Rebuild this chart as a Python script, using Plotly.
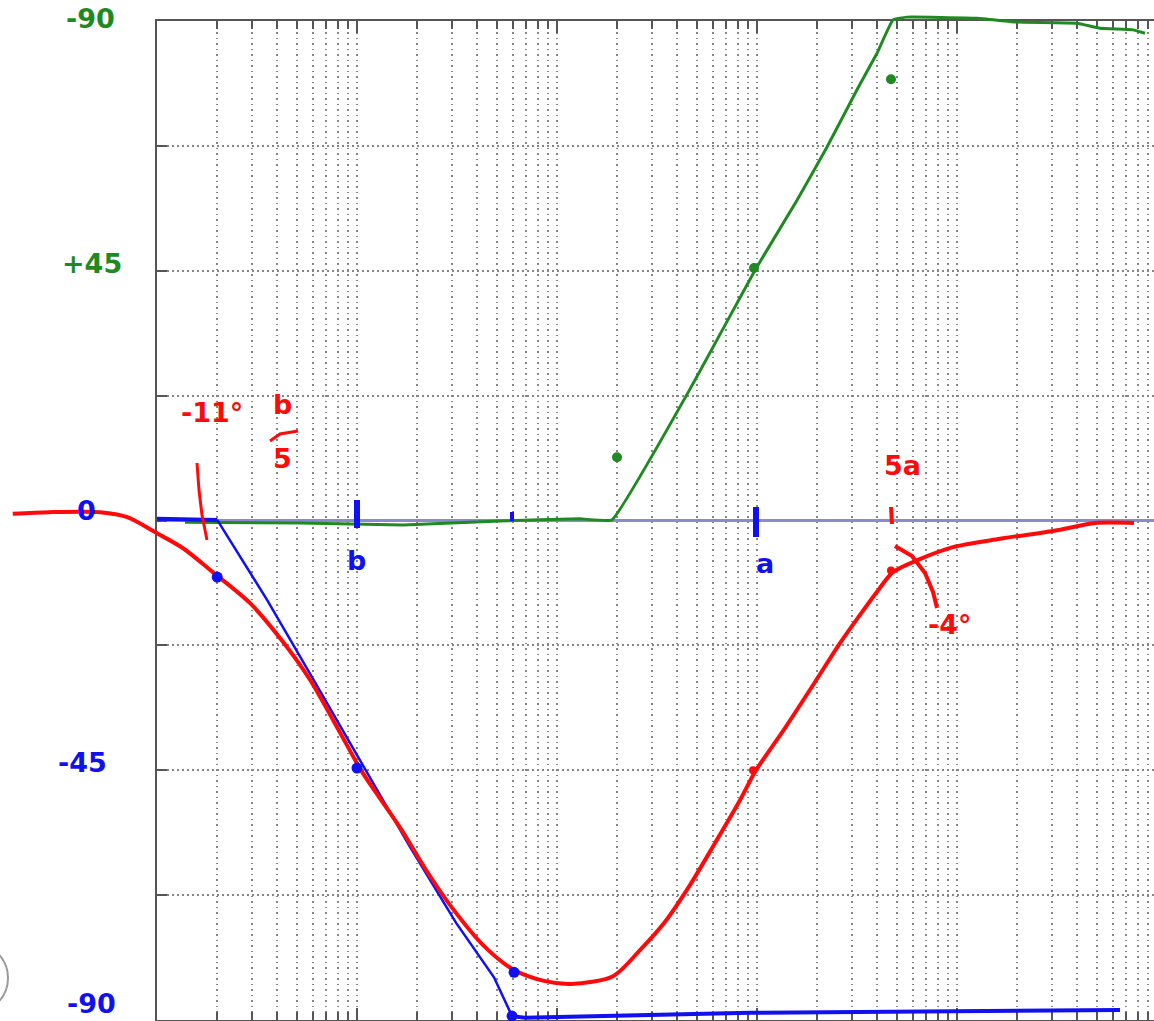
import plotly.graph_objects as go

# ---------------- data (frequency in rad/s, phase in degrees) ----------------
red_f = [0.19, 0.29, 0.52, 0.71, 1.0, 1.35, 1.9, 2.92, 4.27, 5.82, 8.22, 10.6, 16.4, 21.9,
         29.2, 42.7, 61, 87.1, 117.5, 190.5, 260, 347, 462, 617, 822, 977, 1380, 1950,
         2600, 3273, 4027, 4786, 6383, 9550, 16410, 32360, 48980, 76740]
red_deg = [1.2, 1.5, 1.5, 0.6, -2.3, -5.0, -9.3, -14.9, -21.9, -28.7, -38.2, -45.3, -55.3,
           -62.7, -69.3, -76.5, -81.0, -83.0, -83.5, -82.1, -77.4, -72.3, -65.7, -58.1,
           -50.4, -45.3, -37.4, -29.1, -22.1, -17.0, -12.6, -9.3, -7.1, -4.8, -3.3, -1.7,
           -0.45, -0.45]

blue_flat_f = [1.0, 2.0]
blue_flat_deg = [0.3, 0.1]
blue_slope_f = [2.0, 3.55, 5.8, 10.35, 18.4, 31.3, 48.4, 59.6]
blue_slope_deg = [0.1, -14.3, -27.5, -43.2, -58.8, -72.5, -82.3, -89.3]
blue_bottom_f = [59.6, 69, 923, 65300]
blue_bottom_deg = [-89.3, -89.6, -88.7, -88.2]

green_f = [1.38, 5.19, 17, 51.9, 130, 188, 490, 977, 1585, 2239, 3162, 3981, 4786, 5623,
           12590, 19950, 39810, 51880, 75860, 87100]
green_deg = [-0.3, -0.45, -0.8, -0.1, 0.3, 0.1, 25.3, 45.1, 57.7, 67.3, 77.6, 84.2, 90.2,
             90.7, 90.5, 89.8, 89.6, 88.7, 88.4, 87.8]

green_dot_f = [199.5, 966, 4677]
green_dot_deg = [11.4, 45.5, 79.5]
blue_dot_f = [2.0, 10, 61, 59.6]
blue_dot_deg = [-10.2, -44.6, -81.4, -89.3]
red_dot_f = [955, 4677]
red_dot_deg = [-45.0, -9.0]

zero_f = [1.0, 99000]
zero_deg = [0, 0]

decades = [1, 10, 100, 1000, 10000, 100000]
minor_vals = [m * d for d in decades for m in range(2, 10)]
phase_ticks = [-90, -67.5, -45, -22.5, 0, 22.5, 45, 67.5, 90]

# ---------------- layout geometry ----------------
W, H = 1154, 1021
X0 = 157          # left frame (px)
DEC = 200         # px per decade
Y_TOP, Y_BOT = 21, 1020
S = 180.0 / (Y_BOT - Y_TOP)   # degrees per px

RED = "#ff0a0a"
BLUE = "#1010f0"
GREEN = "#1f8a22"
FRAME = "#555555"
GRID = "#858585"


def px(x, y):
    return x / W, 1 - y / H


fig = go.Figure()

# zero axis line (on the gridded subplot)
fig.add_trace(go.Scatter(x=zero_f, y=zero_deg, mode="lines", xaxis="x", yaxis="y",
                         line=dict(color="#8a8ad0", width=3), hoverinfo="skip"))
# green
fig.add_trace(go.Scatter(x=green_f, y=green_deg, mode="lines", xaxis="x2", yaxis="y2",
                         line=dict(color=GREEN, width=3, shape="spline", smoothing=0.3)))
# blue
fig.add_trace(go.Scatter(x=blue_flat_f, y=blue_flat_deg, mode="lines", xaxis="x2", yaxis="y2",
                         line=dict(color=BLUE, width=4)))
fig.add_trace(go.Scatter(x=blue_slope_f, y=blue_slope_deg, mode="lines", xaxis="x2", yaxis="y2",
                         line=dict(color=BLUE, width=2.5)))
fig.add_trace(go.Scatter(x=blue_bottom_f, y=blue_bottom_deg, mode="lines", xaxis="x2", yaxis="y2",
                         line=dict(color=BLUE, width=4)))
# red
fig.add_trace(go.Scatter(x=red_f, y=red_deg, mode="lines", xaxis="x2", yaxis="y2",
                         line=dict(color=RED, width=4, shape="spline", smoothing=0.8)))
# dots
fig.add_trace(go.Scatter(x=green_dot_f, y=green_dot_deg, mode="markers", xaxis="x2", yaxis="y2",
                         marker=dict(color=GREEN, size=10)))
fig.add_trace(go.Scatter(x=blue_dot_f, y=blue_dot_deg, mode="markers", xaxis="x2", yaxis="y2",
                         marker=dict(color=BLUE, size=11)))
fig.add_trace(go.Scatter(x=red_dot_f, y=red_dot_deg, mode="markers", xaxis="x2", yaxis="y2",
                         marker=dict(color=RED, size=8)))

# ---------------- hand-written annotations ----------------
texts = [
    ("-90", 90, 19, GREEN, 27),
    ("+45", 92, 264, GREEN, 27),
    ("0", 86, 510, BLUE, 27),
    ("-45", 82, 762, BLUE, 27),
    ("-90", 92, 1003, BLUE, 27),
    ("-11°", 212, 413, RED, 27),
    ("b", 282, 404, RED, 27),
    ("5", 282, 458, RED, 27),
    ("b", 356, 560, BLUE, 27),
    ("a", 765, 563, BLUE, 27),
    ("5a", 902, 465, RED, 27),
    ("-4°", 950, 624, RED, 27),
]
for t, x, y, c, s in texts:
    ax, ay = px(x, y)
    fig.add_annotation(text="<b>" + t + "</b>", x=ax, y=ay, xref="paper", yref="paper",
                       showarrow=False, font=dict(family="DejaVu Sans", size=s, color=c),
                       xanchor="center", yanchor="middle")


def path(points, closed=False):
    s = ""
    for i, (x, y) in enumerate(points):
        a, b = px(x, y)
        s += ("M" if i == 0 else "L") + f" {a:.5f} {b:.5f} "
    return s + ("Z" if closed else "")


strokes = [
    ([(197, 463), (199, 490), (202, 515), (207, 540)], RED, 3),
    ([(270, 441), (280, 434), (298, 431)], RED, 3),
    ([(357, 500), (357, 528)], BLUE, 6),
    ([(512, 512), (512, 521)], BLUE, 4),
    ([(756, 507), (756, 537)], BLUE, 6),
    ([(891, 507), (892, 524)], RED, 4),
    ([(895, 546), (912, 556), (925, 573), (933, 592), (937, 608)], RED, 4),
]
shapes = []
for pts, c, w in strokes:
    shapes.append(dict(type="path", path=path(pts), xref="paper", yref="paper",
                       line=dict(color=c, width=w)))
# partial grey circle at bottom-left edge
cx0, cy0 = px(-58, 944)
cx1, cy1 = px(8, 1012)
shapes.append(dict(type="circle", xref="paper", yref="paper", x0=cx0, y0=cy0, x1=cx1, y1=cy1,
                   line=dict(color="#9a9a9a", width=2)))

DASH = "1.5px,4px"
fig.update_layout(
    width=W, height=H,
    margin=dict(l=0, r=0, t=0, b=0, pad=0),
    paper_bgcolor="white", plot_bgcolor="rgba(0,0,0,0)",
    showlegend=False,
    shapes=shapes,
    xaxis=dict(type="log", domain=[X0 / W, 1], range=[0, (W - X0) / DEC], anchor="y",
               tickmode="array", tickvals=decades, showticklabels=False,
               ticks="inside", ticklen=12, tickwidth=2, tickcolor=FRAME,
               showline=True, linecolor=FRAME, linewidth=2, mirror="ticks",
               showgrid=True, gridcolor=GRID, gridwidth=1.5, griddash=DASH, zeroline=False,
               minor=dict(tickmode="array", tickvals=minor_vals, ticks="inside", ticklen=8,
                          tickwidth=2, tickcolor=FRAME, showgrid=True, gridcolor=GRID,
                          gridwidth=1.5, griddash=DASH)),
    yaxis=dict(domain=[(H - Y_BOT) / H, (H - Y_TOP) / H], range=[-90, 90], anchor="x",
               tickmode="array", tickvals=phase_ticks, showticklabels=False,
               ticks="inside", ticklen=10, tickwidth=2, tickcolor=FRAME,
               showline=True, linecolor=FRAME, linewidth=2, mirror=False,
               showgrid=True, gridcolor=GRID, gridwidth=1.5, griddash="2px,3px", zeroline=False),
    xaxis2=dict(type="log", domain=[0, 1], anchor="y2", visible=False,
                range=[-X0 / DEC, (W - X0) / DEC]),
    yaxis2=dict(domain=[0, 1], anchor="x2", visible=False,
                range=[-90 - (H - Y_BOT) * S, 90 + Y_TOP * S]),
)

fig.write_html("out.html", config={"displayModeBar": False},
               post_script="document.body.style.margin='0';")
